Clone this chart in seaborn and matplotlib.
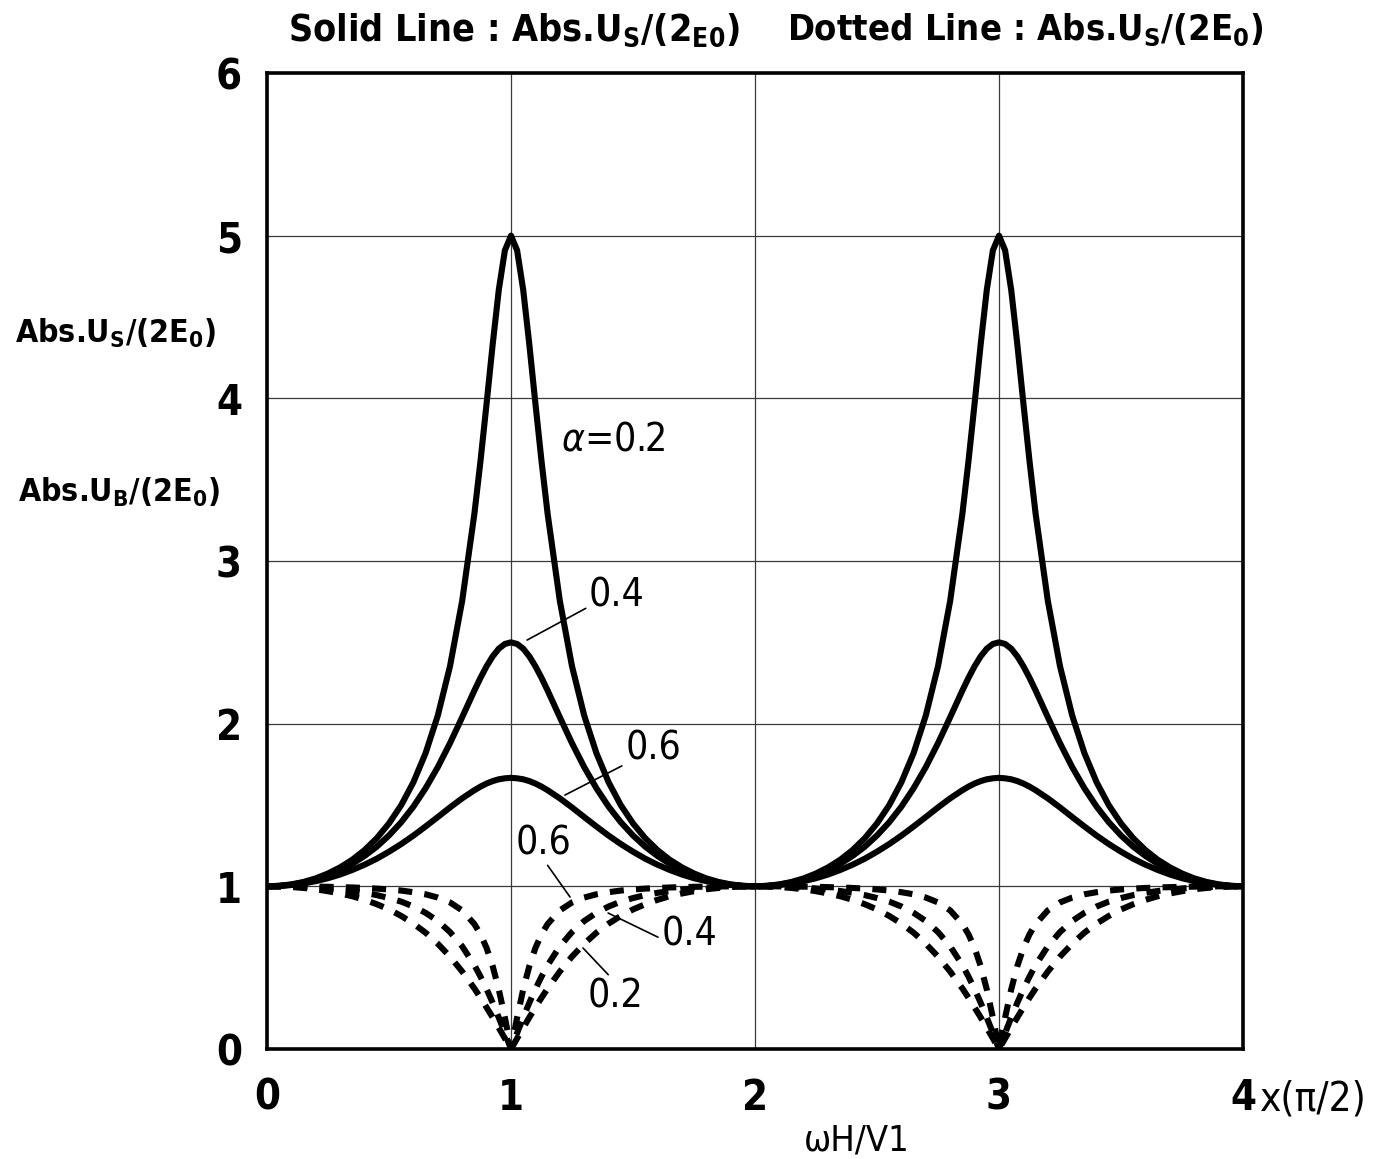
"""Amplification of surface / base motion for a layer over half-space."""

import matplotlib

matplotlib.use("Agg")
import matplotlib.pyplot as plt
import pandas as pd
import seaborn as sns
from matplotlib import font_manager
from matplotlib.ticker import MultipleLocator

# x axis in units of pi/2 (denser sampling close to the resonance peaks)
x_vals = [
    0.0, 0.05, 0.1, 0.15, 0.2, 0.25, 0.3, 0.35, 0.4, 0.45, 0.5, 0.55,
    0.6, 0.65, 0.7, 0.75, 0.8, 0.85, 0.875, 0.9, 0.925, 0.95, 0.975, 1.0,
    1.025, 1.05, 1.075, 1.1, 1.125, 1.15, 1.2, 1.25, 1.3, 1.35, 1.4, 1.45,
    1.5, 1.55, 1.6, 1.65, 1.7, 1.75, 1.8, 1.85, 1.9, 1.95, 2.0,
    2.05, 2.1, 2.15, 2.2, 2.25, 2.3, 2.35, 2.4, 2.45, 2.5, 2.55, 2.6,
    2.65, 2.7, 2.75, 2.8, 2.85, 2.875, 2.9, 2.925, 2.95, 2.975, 3.0,
    3.025, 3.05, 3.075, 3.1, 3.125, 3.15, 3.2, 3.25, 3.3, 3.35, 3.4, 3.45,
    3.5, 3.55, 3.6, 3.65, 3.7, 3.75, 3.8, 3.85, 3.9, 3.95, 4.0,
]

alphas = ["0.2", "0.4", "0.6"]

# solid lines: Abs.Us/(2E0)
solid_02 = [
    1.000, 1.003, 1.012, 1.027, 1.049, 1.079, 1.117, 1.164, 1.223, 1.296, 1.387, 1.499,
    1.640, 1.819, 2.050, 2.353, 2.756, 3.291, 3.615, 3.969, 4.333, 4.667, 4.910, 5.000,
    4.910, 4.667, 4.333, 3.969, 3.615, 3.291, 2.756, 2.353, 2.050, 1.819, 1.640, 1.499,
    1.387, 1.296, 1.223, 1.164, 1.117, 1.079, 1.049, 1.027, 1.012, 1.003, 1.000,
    1.003, 1.012, 1.027, 1.049, 1.079, 1.117, 1.164, 1.223, 1.296, 1.387, 1.499, 1.640,
    1.819, 2.050, 2.353, 2.756, 3.291, 3.615, 3.969, 4.333, 4.667, 4.910, 5.000,
    4.910, 4.667, 4.333, 3.969, 3.615, 3.291, 2.756, 2.353, 2.050, 1.819, 1.640, 1.499,
    1.387, 1.296, 1.223, 1.164, 1.117, 1.079, 1.049, 1.027, 1.012, 1.003, 1.000,
]
solid_04 = [
    1.000, 1.003, 1.010, 1.024, 1.043, 1.068, 1.100, 1.139, 1.187, 1.244, 1.313, 1.394,
    1.490, 1.603, 1.733, 1.880, 2.040, 2.204, 2.282, 2.353, 2.414, 2.461, 2.490, 2.500,
    2.490, 2.461, 2.414, 2.353, 2.282, 2.204, 2.040, 1.880, 1.733, 1.603, 1.490, 1.394,
    1.313, 1.244, 1.187, 1.139, 1.100, 1.068, 1.043, 1.024, 1.010, 1.003, 1.000,
    1.003, 1.010, 1.024, 1.043, 1.068, 1.100, 1.139, 1.187, 1.244, 1.313, 1.394, 1.490,
    1.603, 1.733, 1.880, 2.040, 2.204, 2.282, 2.353, 2.414, 2.461, 2.490, 2.500,
    2.490, 2.461, 2.414, 2.353, 2.282, 2.204, 2.040, 1.880, 1.733, 1.603, 1.490, 1.394,
    1.313, 1.244, 1.187, 1.139, 1.100, 1.068, 1.043, 1.024, 1.010, 1.003, 1.000,
]
solid_06 = [
    1.000, 1.002, 1.008, 1.018, 1.032, 1.050, 1.073, 1.101, 1.133, 1.170, 1.213, 1.260,
    1.312, 1.368, 1.426, 1.485, 1.541, 1.591, 1.613, 1.632, 1.647, 1.658, 1.664, 1.667,
    1.664, 1.658, 1.647, 1.632, 1.613, 1.591, 1.541, 1.485, 1.426, 1.368, 1.312, 1.260,
    1.213, 1.170, 1.133, 1.101, 1.073, 1.050, 1.032, 1.018, 1.008, 1.002, 1.000,
    1.002, 1.008, 1.018, 1.032, 1.050, 1.073, 1.101, 1.133, 1.170, 1.213, 1.260, 1.312,
    1.368, 1.426, 1.485, 1.541, 1.591, 1.613, 1.632, 1.647, 1.658, 1.664, 1.667,
    1.664, 1.658, 1.647, 1.632, 1.613, 1.591, 1.541, 1.485, 1.426, 1.368, 1.312, 1.260,
    1.213, 1.170, 1.133, 1.101, 1.073, 1.050, 1.032, 1.018, 1.008, 1.002, 1.000,
]

# dotted lines: Abs.UB/(2E0)
dotted_02 = [
    1.000, 1.000, 1.000, 0.999, 0.998, 0.997, 0.995, 0.993, 0.990, 0.986, 0.981, 0.974,
    0.964, 0.951, 0.931, 0.901, 0.852, 0.768, 0.705, 0.621, 0.509, 0.366, 0.193, 0.000,
    0.193, 0.366, 0.509, 0.621, 0.705, 0.768, 0.852, 0.901, 0.931, 0.951, 0.964, 0.974,
    0.981, 0.986, 0.990, 0.993, 0.995, 0.997, 0.998, 0.999, 1.000, 1.000, 1.000,
    1.000, 1.000, 0.999, 0.998, 0.997, 0.995, 0.993, 0.990, 0.986, 0.981, 0.974, 0.964,
    0.951, 0.931, 0.901, 0.852, 0.768, 0.705, 0.621, 0.509, 0.366, 0.193, 0.000,
    0.193, 0.366, 0.509, 0.621, 0.705, 0.768, 0.852, 0.901, 0.931, 0.951, 0.964, 0.974,
    0.981, 0.986, 0.990, 0.993, 0.995, 0.997, 0.998, 0.999, 1.000, 1.000, 1.000,
]
dotted_04 = [
    1.000, 1.000, 0.998, 0.995, 0.992, 0.987, 0.980, 0.971, 0.960, 0.946, 0.928, 0.906,
    0.876, 0.837, 0.787, 0.719, 0.631, 0.515, 0.445, 0.368, 0.284, 0.193, 0.098, 0.000,
    0.098, 0.193, 0.284, 0.368, 0.445, 0.515, 0.631, 0.719, 0.787, 0.837, 0.876, 0.906,
    0.928, 0.946, 0.960, 0.971, 0.980, 0.987, 0.992, 0.995, 0.998, 1.000, 1.000,
    1.000, 0.998, 0.995, 0.992, 0.987, 0.980, 0.971, 0.960, 0.946, 0.928, 0.906, 0.876,
    0.837, 0.787, 0.719, 0.631, 0.515, 0.445, 0.368, 0.284, 0.193, 0.098, 0.000,
    0.098, 0.193, 0.284, 0.368, 0.445, 0.515, 0.631, 0.719, 0.787, 0.837, 0.876, 0.906,
    0.928, 0.946, 0.960, 0.971, 0.980, 0.987, 0.992, 0.995, 0.998, 1.000, 1.000,
]
dotted_06 = [
    1.000, 0.999, 0.996, 0.990, 0.982, 0.970, 0.956, 0.939, 0.917, 0.890, 0.858, 0.818,
    0.771, 0.715, 0.647, 0.568, 0.476, 0.372, 0.315, 0.255, 0.194, 0.130, 0.065, 0.000,
    0.065, 0.130, 0.194, 0.255, 0.315, 0.372, 0.476, 0.568, 0.647, 0.715, 0.771, 0.818,
    0.858, 0.890, 0.917, 0.939, 0.956, 0.970, 0.982, 0.990, 0.996, 0.999, 1.000,
    0.999, 0.996, 0.990, 0.982, 0.970, 0.956, 0.939, 0.917, 0.890, 0.858, 0.818, 0.771,
    0.715, 0.647, 0.568, 0.476, 0.372, 0.315, 0.255, 0.194, 0.130, 0.065, 0.000,
    0.065, 0.130, 0.194, 0.255, 0.315, 0.372, 0.476, 0.568, 0.647, 0.715, 0.771, 0.818,
    0.858, 0.890, 0.917, 0.939, 0.956, 0.970, 0.982, 0.990, 0.996, 0.999, 1.000,
]

x_ticks = [0, 1, 2, 3, 4]
y_ticks = [0, 1, 2, 3, 4, 5, 6]


def pick_font():
    """Prefer a narrow sans face if one is installed."""
    entries = font_manager.fontManager.ttflist
    if any(f.name == "Liberation Sans Narrow" for f in entries):
        return "Liberation Sans Narrow", "normal"
    if any(f.name == "DejaVu Sans" and f.stretch == "condensed" for f in entries):
        return "DejaVu Sans", "condensed"
    return "Liberation Sans", "normal"


sns.set_theme(style="white")
family, stretch = pick_font()
plt.rcParams["font.family"] = [family, "DejaVu Sans"]
plt.rcParams["font.stretch"] = stretch
plt.rcParams["text.color"] = "black"
plt.rcParams["mathtext.fontset"] = "custom"
plt.rcParams["mathtext.rm"] = f"{family}:bold"
plt.rcParams["mathtext.it"] = f"{family}:italic"
plt.rcParams["mathtext.bf"] = f"{family}:bold"

frames = []
for kind, series in [
    ("Solid", [solid_02, solid_04, solid_06]),
    ("Dotted", [dotted_02, dotted_04, dotted_06]),
]:
    for a, vals in zip(alphas, series):
        frames.append(pd.DataFrame({"x": x_vals, "y": vals, "kind": kind, "alpha": a}))
df = pd.concat(frames, ignore_index=True)

fig = plt.figure(figsize=(13.92, 11.59), dpi=100)
ax = fig.add_axes([267 / 1392, 1 - 1049 / 1159, 976 / 1392, 976 / 1159])

sns.lineplot(
    data=df,
    x="x",
    y="y",
    style="kind",
    units="alpha",
    estimator=None,
    dashes={"Solid": "", "Dotted": (2.3, 2.0)},
    color="black",
    lw=4.4,
    legend=False,
    ax=ax,
)

ax.set_xlim(0, 4)
ax.set_ylim(0, 6)
ax.xaxis.set_minor_locator(MultipleLocator(0.2))
ax.yaxis.set_minor_locator(MultipleLocator(0.2))
ax.set_xticks(x_ticks)
ax.set_yticks(y_ticks)
ax.grid(True, which="major", color="#3a3a3a", lw=0.9)
ax.tick_params(which="both", direction="in", top=False, right=False,
               color="#333333", labelcolor="black", width=1.0, length=7)
ax.tick_params(axis="x", pad=20)
ax.tick_params(axis="y", pad=18)
for lab in ax.get_xticklabels() + ax.get_yticklabels():
    lab.set_fontsize(30)
    lab.set_fontweight("bold")
for sp in ax.spines.values():
    sp.set_visible(True)
    sp.set_color("black")
    sp.set_linewidth(2.6)
ax.set_xlabel("")
ax.set_ylabel("")

# curve labels with leader lines
lead = dict(arrowstyle="-", lw=1.2, color="black", shrinkA=0, shrinkB=0)
ax.text(1.418, 3.744, r"$\alpha$=0.2", fontsize=28, ha="center", va="center")
ax.annotate("0.4", xy=(1.066, 2.514), xytext=(1.434, 2.79), fontsize=28,
            ha="center", va="center", arrowprops=dict(lead, relpos=(0.0, 0.2)))
ax.annotate("0.6", xy=(1.221, 1.561), xytext=(1.582, 1.85), fontsize=28,
            ha="center", va="center", arrowprops=dict(lead, relpos=(0.1, 0.15)))
ax.annotate("0.6", xy=(1.242, 0.934), xytext=(1.135, 1.266), fontsize=28,
            ha="center", va="center", arrowprops=dict(lead, relpos=(0.5, 0.05)))
ax.annotate("0.4", xy=(1.398, 0.836), xytext=(1.73, 0.701), fontsize=28,
            ha="center", va="center", arrowprops=dict(lead, relpos=(0.0, 0.4)))
ax.annotate("0.2", xy=(1.295, 0.621), xytext=(1.43, 0.32), fontsize=28,
            ha="center", va="center", arrowprops=dict(lead, relpos=(0.45, 0.95)))

# titles and axis texts
fig.text(288 / 1392, 1 - 30 / 1159, r"Solid Line : Abs.U$_\mathrm{S}$/(2$_\mathrm{E0}$)",
         fontsize=27, fontweight="bold", ha="left", va="center")
fig.text(787 / 1392, 1 - 30 / 1159, r"Dotted Line : Abs.U$_\mathrm{S}$/(2E$_\mathrm{0}$)",
         fontsize=26, fontweight="bold", ha="left", va="center")
fig.text(15 / 1392, 1 - 333 / 1159, r"Abs.U$_\mathrm{S}$/(2E$_\mathrm{0}$)",
         fontsize=23, fontweight="bold", ha="left", va="center")
fig.text(18 / 1392, 1 - 492 / 1159, r"Abs.U$_\mathrm{B}$/(2E$_\mathrm{0}$)",
         fontsize=23, fontweight="bold", ha="left", va="center")
fig.text(1260 / 1392, 1 - 1100 / 1159, "x(π/2)", fontsize=29,
         ha="left", va="center")
fig.text(857 / 1392, 1 - 1140 / 1159, "ωH/V1", fontsize=26,
         ha="center", va="center")

fig.savefig("out.png", dpi=100)
